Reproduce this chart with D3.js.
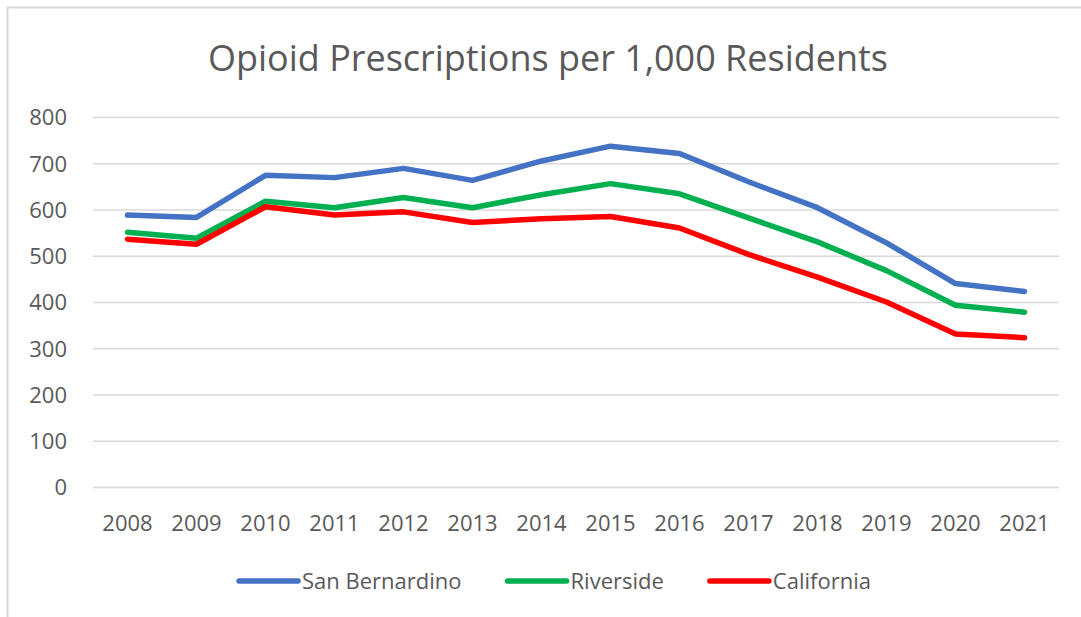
<html>
  <head>
    <script src="https://cdnjs.cloudflare.com/ajax/libs/d3/7.8.5/d3.min.js"></script>
    <style>
      body { margin: 0; background: #fff; }
      text { font-family: "Open Sans", sans-serif; fill: #595959; }
    </style>
  </head>
  <body>
    <svg id="chart" width="1081" height="617"></svg>
    <script>
      // chart data
      var years = ["2008", "2009", "2010", "2011", "2012", "2013", "2014",
                   "2015", "2016", "2017", "2018", "2019", "2020", "2021"];
      var sanBernardino = [589, 584, 675, 670, 690, 664, 706, 738, 722, 661, 605, 529, 441, 424];
      var riverside     = [552, 539, 619, 605, 627, 605, 633, 657, 635, 583, 531, 469, 394, 379];
      var california    = [537, 526, 607, 589, 596, 573, 581, 586, 561, 504, 455, 401, 332, 324];
      var yTicks = [0, 100, 200, 300, 400, 500, 600, 700, 800];

      var seriesNames = ["San Bernardino", "Riverside", "California"];
      var seriesColors = ["#4472C4", "#00B050", "#FF0000"];
      var series = [sanBernardino, riverside, california];

      var svg = d3.select("#chart");

      // outer chart frame
      svg.append("rect")
        .attr("x", 7.5).attr("y", 7.5)
        .attr("width", 1200).attr("height", 800)
        .attr("fill", "#fff")
        .attr("stroke", "#d9d9d9")
        .attr("stroke-width", 2);

      var title = svg.append("text")
        .attr("x", 548).attr("y", 71)
        .attr("text-anchor", "middle")
        .style("font-size", "34px")
        .text("Opioid Prescriptions per 1,000 Residents");
      // fit title width to reference
      var tw = title.node().getComputedTextLength();
      title.style("font-size", (34 * 680 / tw) + "px");

      var x = d3.scalePoint()
        .domain(years)
        .range([93, 1059])
        .padding(0.5);

      var y = d3.scaleLinear()
        .domain([0, 800])
        .range([487.5, 117.5]);

      // gridlines
      svg.append("g")
        .selectAll("line")
        .data(yTicks)
        .enter()
        .append("line")
        .attr("x1", 93).attr("x2", 1059)
        .attr("y1", d => y(d)).attr("y2", d => y(d))
        .attr("stroke", "#d9d9d9")
        .attr("stroke-width", 1.5);

      // y labels
      svg.append("g")
        .selectAll("text")
        .data(yTicks)
        .enter()
        .append("text")
        .attr("x", 67)
        .attr("y", d => y(d))
        .attr("dy", "0.36em")
        .attr("text-anchor", "end")
        .style("font-size", "22px")
        .text(d => d);

      // x labels
      svg.append("g")
        .selectAll("text")
        .data(years)
        .enter()
        .append("text")
        .attr("x", d => x(d))
        .attr("y", 531)
        .attr("text-anchor", "middle")
        .style("font-size", "22px")
        .text(d => d);

      var line = d3.line()
        .x((d, i) => x(years[i]))
        .y(d => y(d));

      svg.append("g")
        .selectAll("path")
        .data(series)
        .enter()
        .append("path")
        .attr("d", line)
        .attr("fill", "none")
        .attr("stroke", (d, i) => seriesColors[i])
        .attr("stroke-width", 5.5)
        .attr("stroke-linejoin", "round")
        .attr("stroke-linecap", "round");

      // legend
      var legend = svg.append("g");
      var lx = 0;
      var gap = 44;
      seriesNames.forEach(function(name, i) {
        var item = legend.append("g").attr("transform", "translate(" + lx + ",0)");
        item.append("line")
          .attr("x1", 2).attr("x2", 61)
          .attr("y1", 0).attr("y2", 0)
          .attr("stroke", seriesColors[i])
          .attr("stroke-width", 5.5)
          .attr("stroke-linecap", "round");
        var t = item.append("text")
          .attr("x", 65).attr("y", 0)
          .attr("dy", "0.36em")
          .style("font-size", "22px")
          .text(name);
        lx += 65 + t.node().getComputedTextLength() + gap;
      });
      var lw = lx - gap;
      legend.attr("transform", "translate(" + (554 - lw / 2) + ",581)");
    </script>
  </body>
</html>
